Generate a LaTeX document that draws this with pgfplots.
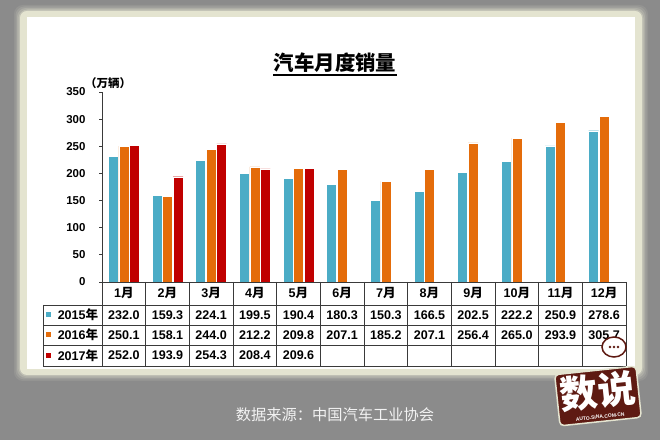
\documentclass[border=0pt]{standalone}
\usepackage{pgfplots}
\pgfplotsset{compat=1.18}
\usepackage{fontspec}
\setmainfont{Liberation Sans}
\newfontfamily\cjk{Noto Sans CJK SC}

\definecolor{s15}{HTML}{4BACC6}
\definecolor{s16}{HTML}{E46C0A}
\definecolor{s17}{HTML}{C00000}
\definecolor{bg}{HTML}{8B8B8B}
\definecolor{cream}{HTML}{E4E4D0}
\definecolor{tline}{HTML}{3A3A3A}
\definecolor{logo}{HTML}{5E1A12}

\newcommand{\fs}[1]{\fontsize{#1}{#1}\selectfont}

\begin{document}
\begin{tikzpicture}[x=1bp,y=1bp]
\useasboundingbox (0,0) rectangle (660,440);
% background and panel
\fill[bg] (0,0) rectangle (660,440);
\foreach \d/\o in {6/0.10,4.5/0.15,3/0.22,1.5/0.35}
  \fill[cream,opacity=\o,rounded corners=9] (20-\d,65-\d) rectangle (642+\d,429+\d);
\fill[cream,rounded corners=7] (20,65) rectangle (642,429);
\fill[white] (27,71) rectangle (635,423);

% title
\node[font=\cjk\bfseries\fs{20.5},inner sep=0] at (335,377) {汽车月度销量};
\draw[line width=1.2bp] (273,365) -- (397,365);
\node[anchor=west,font=\cjk\bfseries\fs{11.5},inner sep=0] at (85,357) {（万辆）};

\begin{axis}[
  at={(102bp,158bp)}, anchor=south west,
  scale only axis, width=524bp, height=190bp,
  xmin=-0.5, xmax=11.5, ymin=0, ymax=350,
  xtick=\empty, ytick={0,50,...,350},
  axis x line*=bottom, axis y line*=left,
  axis line style={tline, line width=0.8bp},
  tick align=outside, major tick length=3bp,
  tick style={tline, line width=0.8bp},
  yticklabel style={font=\bfseries\fs{11.5}, xshift=-10bp},
  /pgf/number format/assume math mode=true,
  ybar=0.5bp, bar width=10bp,
  clip=false,
]
\addplot[fill=s15, draw=white, line width=0.4bp] coordinates {
(0,232.0) (1,159.3) (2,224.1) (3,199.5) (4,190.4) (5,180.3)
(6,150.3) (7,166.5) (8,202.5) (9,222.2) (10,250.9) (11,278.6)};
\addplot[fill=s16, draw=white, line width=0.4bp] coordinates {
(0,250.1) (1,158.1) (2,244.0) (3,212.2) (4,209.8) (5,207.1)
(6,185.2) (7,207.1) (8,256.4) (9,265.0) (10,293.9) (11,305.7)};
\addplot[fill=s17, draw=white, line width=0.4bp] coordinates {
(0,252.0) (1,193.9) (2,254.3) (3,208.4) (4,209.6)};
\end{axis}

% data table
\begin{scope}[tline, line width=0.8bp]
\foreach \k in {0,...,12}
  \draw ({102+43.667*\k},158) -- ({102+43.667*\k},74);
\draw (43,135) -- (43,74);
\draw (102,158) -- (626,158);
\foreach \y in {135,115,95,74}
  \draw (43,\y) -- (626,\y);
\end{scope}
\begin{scope}[every node/.style={font=\bfseries\fs{12.6},inner sep=0}]
\foreach \m [count=\i from 0] in {1,...,12}
  \node at ({123.83+43.667*\i},146.5) {\m{\cjk 月}};
\fill[s15] (46,122.5) rectangle (51,127.5);
\fill[s16] (46,102.5) rectangle (51,107.5);
\fill[s17] (46,82) rectangle (51,87);
\node at (78,125) {2015{\cjk 年}};
\node at (78,105) {2016{\cjk 年}};
\node at (78,84.5) {2017{\cjk 年}};
\foreach \v [count=\i from 0] in {232.0,159.3,224.1,199.5,190.4,180.3,150.3,166.5,202.5,222.2,250.9,278.6}
  \node at ({123.83+43.667*\i},125) {\v};
\foreach \v [count=\i from 0] in {250.1,158.1,244.0,212.2,209.8,207.1,185.2,207.1,256.4,265.0,293.9,305.7}
  \node at ({123.83+43.667*\i},105) {\v};
\foreach \v [count=\i from 0] in {252.0,193.9,254.3,208.4,209.6}
  \node at ({123.83+43.667*\i},84.5) {\v};
\end{scope}

% source
\node[text=white!95!black,font=\cjk\fs{15.3},inner sep=0] at (335,25) {数据来源：中国汽车工业协会};

% logo sticker
\node[rotate=6, fill=logo, draw=cream, line width=1.5bp, rounded corners=4bp,
  inner sep=3bp, text=white, align=center] at (598,44)
  {{\cjk\bfseries\fs{38}数说}\\[1bp]{\bfseries\fs{5}AUTO.SINA.COM.CN}};
\draw[logo, fill=white, line width=1.5bp] (614,93) ellipse (12 and 10);
\foreach \dx in {-4,0,4} \fill[logo] (614+\dx,93) circle (1.3);
\end{tikzpicture}
\end{document}
